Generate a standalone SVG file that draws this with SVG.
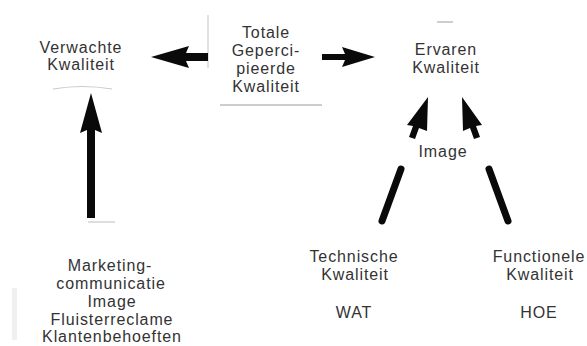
<svg xmlns="http://www.w3.org/2000/svg" width="587" height="346" viewBox="0 0 587 346">
<style>
text{font-family:"Liberation Sans",Arial,sans-serif;font-size:16px;fill:#333;text-anchor:middle;letter-spacing:0.9px}
.arr{fill:#0a0a0a}
.bar{stroke:#0a0a0a;stroke-width:7;stroke-linecap:round}
.faint{stroke:#c8c8c8;stroke-width:1.2;fill:none}
</style>
<rect width="587" height="346" fill="#ffffff"/>
<g id="artifacts">
<path class="faint" d="M53,89 Q82,84 112,89"/>
<line class="faint" x1="88" y1="222" x2="115" y2="222"/>
<line x1="437" y1="22" x2="453" y2="22" stroke="#bdbdbd" stroke-width="1.5"/>
<rect x="12" y="288" width="5" height="52" fill="#f0f0f0"/>
</g>
<g id="verwachte">
<text x="81" y="53">Verwachte</text>
<text x="81" y="70">Kwaliteit</text>
</g>
<g id="totale">
<line x1="208" y1="15" x2="208" y2="68" stroke="#c4c4c4" stroke-width="1"/>
<line x1="220" y1="105" x2="322" y2="105" stroke="#9a9a9a" stroke-width="1"/>
<text x="266" y="37.5">Totale</text>
<text x="266" y="55.5">Geperci-</text>
<text x="266" y="73.5">pieerde</text>
<text x="266" y="92">Kwaliteit</text>
</g>
<g id="ervaren">
<text x="446" y="55">Ervaren</text>
<text x="446" y="73">Kwaliteit</text>
</g>
<g id="image">
<text x="443" y="157">Image</text>
</g>
<g id="technische">
<text x="354" y="262">Technische</text>
<text x="355" y="280">Kwaliteit</text>
<text x="354" y="318">WAT</text>
</g>
<g id="functionele">
<text x="539" y="262">Functionele</text>
<text x="540" y="280">Kwaliteit</text>
<text x="539" y="318">HOE</text>
</g>
<g id="marketing">
<text x="110" y="271">Marketing-</text>
<text x="111" y="289">communicatie</text>
<text x="112" y="307">Image</text>
<text x="112" y="325">Fluisterreclame</text>
<text x="112" y="342">Klantenbehoeften</text>
</g>
<g id="connectors">
<polygon class="arr" points="151,57 189,46 186,53 208,53 208,61 186,61 189,68"/>
<polygon class="arr" points="322,54 345,54 342,47 375,57 342,67 345,60 322,60"/>
<polygon class="arr" points="91,93 102,133 95,130 95,218 87,218 87,130 80,133"/>
<line class="bar" x1="382" y1="221" x2="401" y2="169"/>
<polygon class="arr" points="428,97 427,131 419,128 415,139 409,137 413,126 407,125"/>
<line class="bar" x1="508" y1="221" x2="489" y2="169"/>
<polygon class="arr" points="462,97 482,125 476,126 480,137 474,139 470,128 463,131"/>
</g>
</svg>
